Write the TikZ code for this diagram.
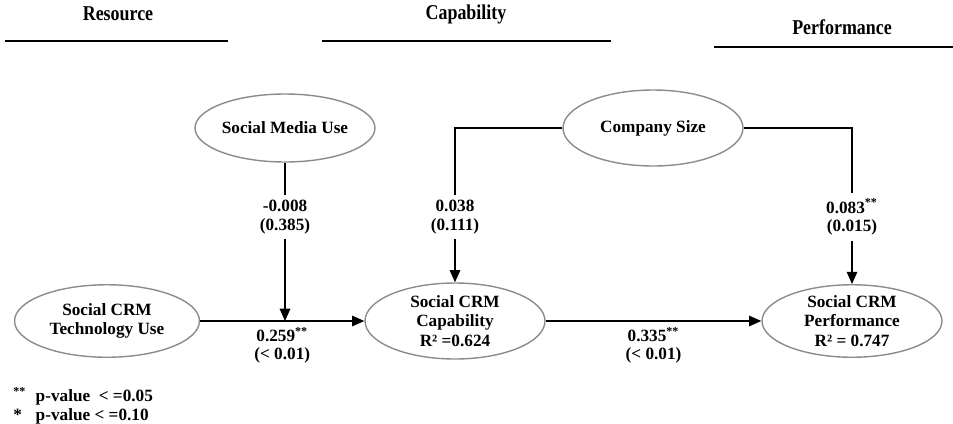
\documentclass[tikz,border=0pt]{standalone}
\usepackage{fontspec}
\setmainfont{Liberation Serif}
\newfontfamily\headfont[FakeStretch=0.85]{Liberation Serif}
\usetikzlibrary{arrows.meta,shapes.geometric}
\definecolor{crmblack}{RGB}{0,0,0}
\definecolor{crmgray}{RGB}{140,140,140}

\begin{document}
\begin{tikzpicture}[x=0.02cm,y=-0.02cm,
    oval/.style={ellipse,draw=crmgray,line width=0.8pt,fill=white,align=center,
      inner xsep=0pt,inner ysep=-3pt,minimum width=3.6cm,minimum height=1.45cm,
      font=\bfseries\fontsize{9.8}{11}\selectfont},
    coef/.style={align=center,inner xsep=1pt,inner ysep=3pt,
      font=\bfseries\fontsize{9.8}{10.5}\selectfont},
    head/.style={font=\headfont\bfseries\fontsize{12}{14}\selectfont},
    pathline/.style={crmblack,line width=0.9pt},
    effect/.style={pathline,-{Triangle[length=7pt,width=6pt]}}]
  \useasboundingbox (0,0) rectangle (953,423);

  % column headings
  \node[head] (hres) at (118,14) {Resource};
  \node[head] (hcap) at (466,14) {Capability};
  \node[head] (hperf) at (842,27) {Performance};
  \draw[pathline] (5,41) -- (228,41);
  \draw[pathline] (322,41) -- (611,41);
  \draw[pathline] (714,47) -- (953,47);

  % constructs
  \node[oval,minimum height=1.36cm] (smu) at (285,128) {Social Media Use};
  \node[oval,minimum height=1.52cm] (csz) at (653,128) {Company Size};
  \node[oval,minimum width=3.7cm] (tcu) at (107,321) {Social CRM\\Technology Use};
  \node[oval,minimum height=1.52cm] (cap) at (455,321) {Social CRM\\Capability\\R² =0.624};
  \node[oval] (perf) at (852,321) {Social CRM\\Performance\\R² = 0.747};

  % coefficients (p-values)
  \node[coef] (lsmu) at (285,217) {-0.008\\(0.385)};
  \node[coef] (l038) at (455,217) {0.038\\(0.111)};
  \node[coef] (l083) at (852,217) {0.083\textsuperscript{**}\\(0.015)};
  \coordinate (meet) at (smu.south |- tcu.east);

  % paths
  \draw[effect] (tcu) -- node[coef,below] {0.259\textsuperscript{**}\\(< 0.01)} (cap);
  \draw[effect] (cap) -- node[coef,below] {0.335\textsuperscript{**}\\(< 0.01)} (perf);
  \draw[pathline] (smu) -- (lsmu);
  \draw[effect] (lsmu) -- (meet);
  \draw[pathline] (csz.west) -| (l038.north);
  \draw[effect] (l038) -- (cap);
  \draw[pathline] (csz.east) -| (l083.north);
  \draw[effect] (l083) -- (perf);

  % significance note
  \node[anchor=north west,align=left,inner sep=0pt,
    font=\bfseries\fontsize{9.8}{10.5}\selectfont] (note) at (13,387)
    {\makebox[1.3em][l]{\textsuperscript{**}}p-value~ < =0.05\\
     \makebox[1.3em][l]{*}p-value < =0.10};
\end{tikzpicture}
\end{document}
